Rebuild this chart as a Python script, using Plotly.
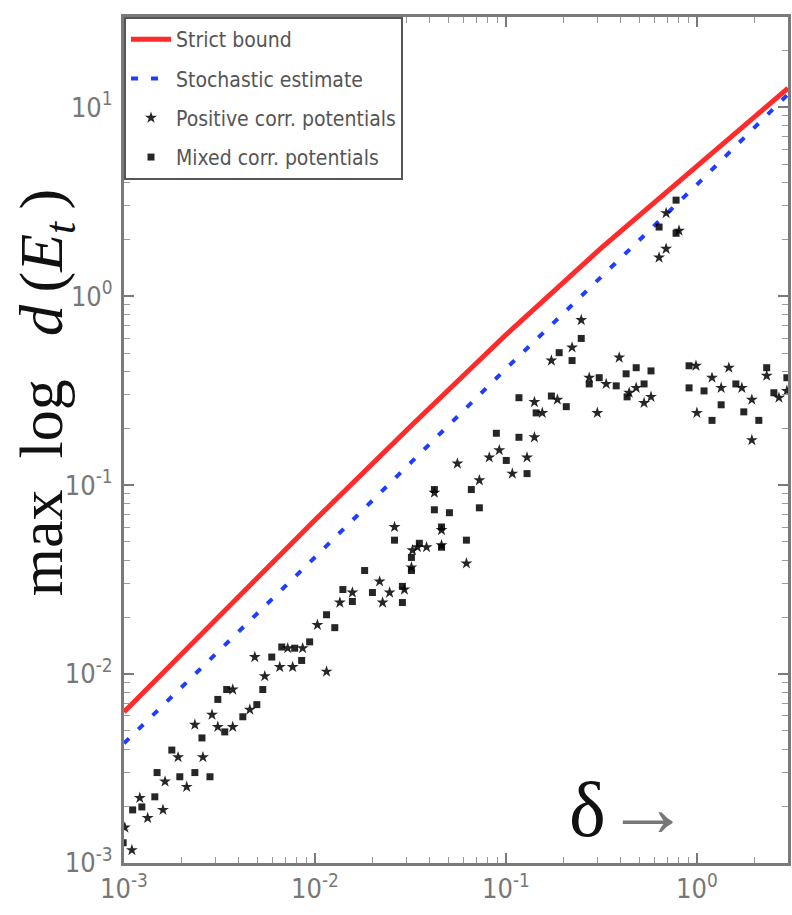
import plotly.graph_objects as go

# ---------------- data ----------------
strict_delta = [0.001, 0.01, 0.0316, 0.1, 0.316, 1.0, 3.0]
strict_bound = [0.0063, 0.0653, 0.204, 0.624, 1.80, 4.90, 12.6]
stochastic_delta = [0.001, 0.01, 0.1, 1.0, 3.0]
stochastic_estimate = [0.0043, 0.0415, 0.413, 3.89, 11.7]

pos_delta = [0.00101, 0.00110, 0.00121, 0.00133, 0.00160, 0.00164, 0.00192, 0.00213,
             0.00235, 0.00259, 0.00289, 0.00310, 0.00371, 0.00371, 0.00456, 0.00484,
             0.00546, 0.00654, 0.00720, 0.00764, 0.00862, 0.0103, 0.0115, 0.0135,
             0.0226, 0.0422, 0.0460, 0.0261, 0.0344, 0.0320, 0.0218, 0.0157,
             0.0246, 0.0294, 0.0324, 0.0384, 0.0460, 0.0557, 0.0621, 0.0726,
             0.0818, 0.0923, 0.108, 0.129, 0.141, 0.141, 0.155, 0.186,
             0.173, 0.222, 0.248, 0.273, 0.301, 0.335, 0.392, 0.442,
             0.481, 0.529, 0.575, 0.634, 0.989, 1.00, 1.20, 1.34,
             1.47, 1.72, 1.94, 1.94, 2.32, 2.69, 2.96, 0.690, 0.806, 0.690]
pos_value = [0.00154, 0.00117, 0.00221, 0.00173, 0.00191, 0.00270, 0.00363, 0.00253,
             0.00539, 0.00363, 0.00609, 0.00525, 0.00828, 0.00525, 0.00648, 0.0123,
             0.00974, 0.0109, 0.0137, 0.0109, 0.0137, 0.0182, 0.0103, 0.0239,
             0.0239, 0.0911, 0.0578, 0.0600, 0.0469, 0.0367, 0.0309, 0.0270,
             0.0270, 0.0280, 0.0452, 0.0469, 0.0480, 0.130, 0.0385, 0.106,
             0.140, 0.153, 0.115, 0.140, 0.179, 0.275, 0.241, 0.283,
             0.456, 0.535, 0.747, 0.370, 0.241, 0.343, 0.473, 0.308,
             0.327, 0.272, 0.293, 1.60, 0.428, 0.241, 0.370, 0.327,
             0.418, 0.327, 0.283, 0.173, 0.379, 0.290, 0.315, 2.75, 2.22, 1.78]

mixed_delta = [0.00099, 0.00111, 0.00124, 0.00145, 0.00149, 0.00178, 0.00196, 0.00235,
               0.00256, 0.00282, 0.00310, 0.00345, 0.00337, 0.00419, 0.00496, 0.00533,
               0.00594, 0.00670, 0.00783, 0.00852, 0.00938, 0.0115, 0.0127, 0.0157,
               0.0287, 0.0422, 0.0460, 0.0261, 0.0320, 0.0182, 0.0140, 0.0200,
               0.0287, 0.0320, 0.0352, 0.0422, 0.0460, 0.0506, 0.0621, 0.0659,
               0.0726, 0.0891, 0.1004, 0.117, 0.129, 0.117, 0.144, 0.173,
               0.207, 0.190, 0.222, 0.248, 0.273, 0.308, 0.378, 0.426,
               0.481, 0.529, 0.575, 0.431, 0.910, 0.910, 1.09, 1.20,
               1.34, 1.60, 1.76, 2.11, 2.32, 2.53, 2.96, 0.778, 0.634, 0.778]
mixed_value = [0.00128, 0.00191, 0.00198, 0.00224, 0.00301, 0.00396, 0.00286, 0.00301,
               0.00459, 0.00286, 0.00734, 0.00828, 0.00494, 0.00594, 0.00689, 0.00828,
               0.0123, 0.0139, 0.0137, 0.0118, 0.0148, 0.0206, 0.0176, 0.0242,
               0.0239, 0.0740, 0.0469, 0.0511, 0.0414, 0.0353, 0.0280, 0.0270,
               0.0291, 0.0353, 0.0492, 0.0947, 0.0600, 0.0714, 0.0511, 0.0947,
               0.0758, 0.188, 0.135, 0.179, 0.115, 0.290, 0.241, 0.296,
               0.260, 0.502, 0.456, 0.597, 0.343, 0.370, 0.335, 0.388,
               0.418, 0.343, 0.402, 0.293, 0.428, 0.327, 0.315, 0.220,
               0.266, 0.343, 0.244, 0.220, 0.418, 0.308, 0.370, 3.22, 2.32, 2.15]

tick_vals_x = [0.001, 0.01, 0.1, 1]
tick_text_x = ["10<sup>-3</sup>", "10<sup>-2</sup>", "10<sup>-1</sup>", "10<sup>0</sup>"]
tick_vals_y = [0.001, 0.01, 0.1, 1, 10]
tick_text_y = ["10<sup>-3</sup>", "10<sup>-2</sup>", "10<sup>-1</sup>", "10<sup>0</sup>", "10<sup>1</sup>"]

NARROW = "Liberation Sans Narrow, Arial Narrow, DejaVu Sans Condensed, sans-serif"
SERIF = "Liberation Serif, DejaVu Serif, serif"
AXIS_GRAY = "#7a7a7a"

fig = go.Figure()
fig.add_trace(go.Scatter(x=strict_delta, y=strict_bound, mode="lines", name="Strict bound",
                         legendgroup="a", line=dict(color="#ff2b2b", width=5)))
fig.add_trace(go.Scatter(x=stochastic_delta, y=stochastic_estimate, mode="lines", name="Stochastic estimate",
                         legendgroup="b", line=dict(color="#1f3dff", width=4, dash="7px,13px")))
fig.add_trace(go.Scatter(x=pos_delta, y=pos_value, mode="markers", name="Positive corr. potentials",
                         legendgroup="c",
                         marker=dict(symbol="star", size=9, color="rgba(0,0,0,0.85)", line=dict(width=0))))
fig.add_trace(go.Scatter(x=mixed_delta, y=mixed_value, mode="markers", name="Mixed corr. potentials",
                         legendgroup="d",
                         marker=dict(symbol="square", size=7, color="rgba(0,0,0,0.85)", line=dict(width=0))))

axis_common = dict(
    type="log", showgrid=False, zeroline=False,
    showline=True, linecolor=AXIS_GRAY, linewidth=3, mirror="ticks",
    ticks="inside", ticklen=10, tickwidth=1.5, tickcolor=AXIS_GRAY,
    tickfont=dict(family=NARROW, size=27, color="#777777"),
    minor=dict(ticks="inside", ticklen=6, tickwidth=1, tickcolor="#999999", dtick="D1", showgrid=False),
)

fig.update_xaxes(range=[-3, 0.4771], tickmode="array", tickvals=tick_vals_x, ticktext=tick_text_x,
                 **axis_common)
fig.update_yaxes(range=[-3, 1.4771], tickmode="array", tickvals=tick_vals_y, ticktext=tick_text_y,
                 ticklabelstandoff=3, **axis_common)

fig.update_layout(
    width=792, height=915,
    margin=dict(l=124, r=1, t=17, b=52),
    paper_bgcolor="white", plot_bgcolor="white",
    showlegend=True,
    legend=dict(x=0, y=1, xanchor="left", yanchor="top",
                bgcolor="white", bordercolor="#555555", borderwidth=2,
                font=dict(family=NARROW, size=21, color="#555555"),
                tracegroupgap=9, itemwidth=40),
    annotations=[
        dict(text="max\u2002log\u2002\u2009<i>d</i>\u2009(<i>E</i><sub><i>t</i></sub>\u2009)",
             xref="paper", yref="paper",
             x=-0.118, y=0.556, xanchor="center", yanchor="middle", textangle=-90,
             showarrow=False, font=dict(family=SERIF, size=62, color="#111111")),
        dict(text="δ<span style='font-size:84px;color:#777777'>→</span>", xref="paper", yref="paper",
             x=0.667, y=0.066, xanchor="left", yanchor="middle",
             showarrow=False, font=dict(family=SERIF, size=78, color="#111111")),
    ],
)

fig.write_html("out.html")
